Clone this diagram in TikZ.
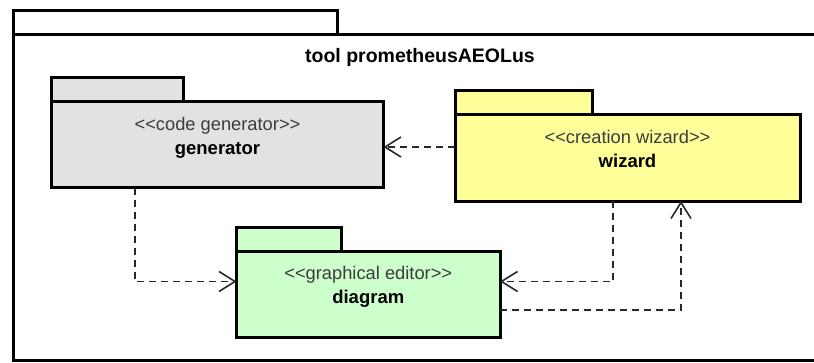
\documentclass[tikz,border=0pt]{standalone}
\usepackage{fontspec}
\setmainfont{Liberation Sans}
\usepackage{xcolor}
\definecolor{pkggray}{RGB}{226, 226, 226}
\definecolor{pkgyellow}{RGB}{255, 255, 153}
\definecolor{pkggreen}{RGB}{204, 255, 204}
\definecolor{stereogray}{RGB}{60, 60, 60}
\definecolor{depgray}{RGB}{40, 40, 40}
\usepackage{tikz}
\usetikzlibrary{
    arrows.meta,
    positioning
}
\tikzstyle{dep} = [
    depgray,
    line width=1.6pt,
    dash pattern=on 7pt off 5pt,
    -{Straight Barb[length=16pt, width=20pt]}
]

\begin{document}
\begin{tikzpicture}[
  x=1pt, y=-1pt,
  pkg/.style={draw, line width=3pt, outer sep=0pt, inner sep=0pt, anchor=north west},
  tab/.style={draw, line width=3pt, outer sep=0pt, inner sep=0pt, anchor=south west, minimum height=24pt},
  stereo/.style={anchor=base, inner sep=0pt, text=stereogray, font=\fontsize{18.3}{20}\selectfont},
  pkgname/.style={anchor=base, inner sep=0pt, font=\fontsize{18.5}{20}\selectfont\bfseries}
]

\useasboundingbox (0,0) rectangle (814,362);
\clip (0,0) rectangle (814,362);

% outer package
\node[pkg, fill=white, minimum width=814pt, minimum height=326.5pt] (tool) at (13,34) {};
\node[tab, fill=white, minimum width=324pt] (tooltab) at (tool.north west) {};
\node[pkgname, font=\fontsize{19.5}{20}\selectfont\bfseries] (tooltitle) at ([yshift=-28pt]tool.north) {tool prometheusAEOLus};

% inner packages
\node[pkg, fill=pkggray, minimum width=332pt, minimum height=86pt] (gen) at (51.5,101.5) {};
\node[tab, fill=pkggray, minimum width=132pt] (gentab) at (gen.north west) {};
\node[stereo] (genst) at ([yshift=-29pt]gen.north) {{<}{<}code generator{>}{>}};
\node[pkgname] (genname) at ([yshift=-24pt]genst.base) {generator};

\node[pkg, fill=pkgyellow, minimum width=345pt, minimum height=87pt] (wiz) at (455,114) {};
\node[tab, fill=pkgyellow, minimum width=137.5pt] (wiztab) at (wiz.north west) {};
\node[stereo] (wizst) at ([yshift=-29pt]wiz.north) {{<}{<}creation wizard{>}{>}};
\node[pkgname] (wizname) at ([yshift=-24pt]wizst.base) {wizard};

\node[pkg, fill=pkggreen, minimum width=263.5pt, minimum height=86pt] (diag) at (236.5,251.5) {};
\node[tab, fill=pkggreen, minimum width=105pt] (diagtab) at (diag.north west) {};
\node[stereo] (diagst) at ([yshift=-28pt]diag.north) {{<}{<}graphical editor{>}{>}};
\node[pkgname] (diagname) at ([yshift=-24pt]diagst.base) {diagram};

% dependencies
\coordinate (w1) at ([yshift=10.5pt]wiz.west);
\coordinate (g1) at ([xshift=-82.5pt]gen.south);
\coordinate (d1) at ([yshift=13pt]diag.west);
\coordinate (w2) at ([xshift=-14.5pt]wiz.south);
\coordinate (d2) at ([yshift=13pt]diag.east);
\coordinate (d3) at ([yshift=-15.5pt]diag.east);
\coordinate (w3) at ([xshift=53.5pt]wiz.south);

\draw[dep] (w1) -- (w1 -| gen.east);
\draw[dep] (g1) |- (d1);
\draw[dep] (w2) |- (d2);
\draw[dep] (d3) -| (w3);

\end{tikzpicture}
\end{document}
